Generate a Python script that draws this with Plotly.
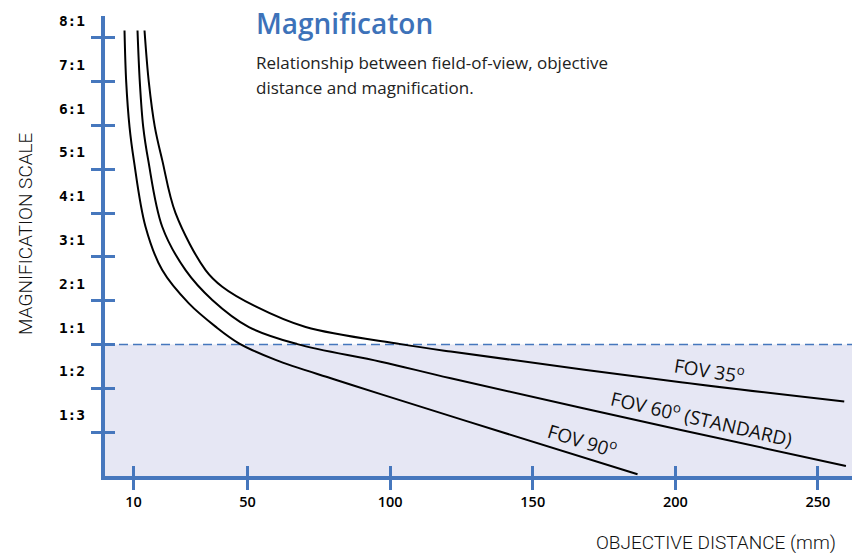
import plotly.graph_objects as go

# ---- data ----
# y values are in "scale steps": 1 = 1:3, 2 = 1:2, 3 = 1:1, 4 = 2:1 ... 10 = 8:1
scale_labels = ["1:3", "1:2", "1:1", "2:1", "3:1", "4:1", "5:1", "6:1", "7:1", "8:1"]
scale_steps = list(range(1, len(scale_labels) + 1))
one_to_one = scale_steps[scale_labels.index("1:1")]

distance_ticks = [10, 50, 100, 150, 200, 250]

fov90_dist = [6.84, 7.44, 8.60, 10.11, 14.21, 20.07, 29.40, 38.77, 46.95, 59.82, 80.28, 96.67, 138.77, 186.74]
fov90_mag = [10.17, 8.99, 7.97, 7.21, 5.69, 4.70, 3.94, 3.41, 3.03, 2.65, 2.21, 1.87, 1.01, 0.04]

fov60_dist = [11.40, 12.21, 13.40, 15.16, 20.07, 28.25, 37.61, 50.46, 67.44, 96.67, 121.23, 201.93, 259.82]
fov60_mag = [10.17, 8.99, 7.97, 7.21, 5.69, 4.70, 4.02, 3.40, 3.01, 2.61, 2.23, 1.05, 0.23]

fov35_dist = [13.86, 15.37, 17.47, 20.07, 24.74, 35.26, 41.12, 52.81, 70.35, 103.68, 121.23, 201.93, 259.23]
fov35_mag = [10.17, 8.99, 7.97, 7.21, 6.00, 4.70, 4.32, 3.87, 3.40, 3.01, 2.84, 2.14, 1.70]

curve_labels = ["FOV 35<sup>o</sup>", "FOV 60<sup>o</sup> (STANDARD)", "FOV 90<sup>o</sup>"]
label_dist = [212.0, 209.0, 167.5]
label_mag = [2.42, 1.32, 0.82]
label_angle = [9, 13, 17]

X_RANGE = [0, 263]
Y_RANGE = [0, 10.5]

AXIS_BLUE = "#4677bd"

fig = go.Figure()

for xs, ys, name in [(fov90_dist, fov90_mag, "FOV 90"),
                     (fov60_dist, fov60_mag, "FOV 60"),
                     (fov35_dist, fov35_mag, "FOV 35")]:
    fig.add_trace(go.Scatter(x=xs, y=ys, mode="lines", name=name,
                             line=dict(color="black", width=2, shape="spline", smoothing=1.0),
                             hoverinfo="x+y", showlegend=False))

# invisible trace to create the overlay axes (inner half of the crossing ticks)
fig.add_trace(go.Scatter(x=[], y=[], xaxis="x2", yaxis="y2", showlegend=False))

# shaded reduction region (below 1:1) and dashed 1:1 line
fig.add_shape(type="rect", xref="paper", yref="y", x0=0, x1=0.997, y0=0, y1=one_to_one,
              fillcolor="#e6e7f4", line=dict(width=0), layer="below")
fig.add_shape(type="line", xref="paper", yref="y", x0=0, x1=0.997, y0=one_to_one, y1=one_to_one,
              line=dict(color=AXIS_BLUE, width=1.5, dash="9px,5px"), layer="below")

for t, xv, yv, ang in zip(curve_labels, label_dist, label_mag, label_angle):
    fig.add_annotation(x=xv, y=yv, text=t, showarrow=False, textangle=ang,
                       font=dict(family="Open Sans", size=19, color="#111111", weight=500))

# page body has an 8px margin; layout is shifted to compensate
PW, PH = 750, 460      # plot area size in px
L, T = 97, 8           # margins (page offset 8px)
def px_x(x):           # page pixel -> paper x
    return (x - 8 - L) / PW
def px_y(y):           # page pixel -> paper y
    return (T + 8 + PH - y) / PH

# titles
fig.add_annotation(xref="paper", yref="paper", x=px_x(254), y=px_y(23), xanchor="left", yanchor="middle",
                   text="Magnificaton", showarrow=False,
                   font=dict(family="Open Sans", size=28, color="#3d72b9", weight=600))
fig.add_annotation(xref="paper", yref="paper", x=px_x(254), y=px_y(63), xanchor="left", yanchor="middle",
                   text="Relationship between field-of-view, objective", showarrow=False,
                   font=dict(family="Open Sans", size=17, color="#222222"))
fig.add_annotation(xref="paper", yref="paper", x=px_x(254), y=px_y(87), xanchor="left", yanchor="middle",
                   text="distance and magnification.", showarrow=False,
                   font=dict(family="Open Sans", size=17, color="#222222"))

# axis titles
fig.add_annotation(xref="paper", yref="paper", x=px_x(25), y=px_y(234),
                   xanchor="center", yanchor="middle", textangle=-90,
                   text="MAGNIFICATION SCALE", showarrow=False,
                   font=dict(family="Roboto", size=19, color="#111111", weight=300))
fig.add_annotation(xref="paper", yref="paper", x=px_x(838), y=px_y(542),
                   xanchor="right", yanchor="middle",
                   text="OBJECTIVE DISTANCE (mm)", showarrow=False,
                   font=dict(family="Roboto", size=19, color="#111111", weight=300))

common_x = dict(range=X_RANGE, tickvals=distance_ticks, showgrid=False, zeroline=False,
                tickcolor=AXIS_BLUE, tickwidth=3, ticklen=10, fixedrange=True)
common_y = dict(range=Y_RANGE, tickvals=scale_steps, showgrid=False, zeroline=False,
                tickcolor=AXIS_BLUE, tickwidth=3, ticklen=10, fixedrange=True)

fig.update_layout(
    width=852, height=545,
    margin=dict(l=L, r=5, t=T, b=77, autoexpand=False),
    paper_bgcolor="white", plot_bgcolor="white",
    xaxis=dict(**common_x, ticks="outside", showline=True, linecolor=AXIS_BLUE, linewidth=4,
               ticktext=[str(v) for v in distance_ticks],
               tickfont=dict(family="Open Sans", size=14.5, color="black", weight=600),
               ticklabelstandoff=0),
    yaxis=dict(**common_y, ticks="outside", showline=True, linecolor=AXIS_BLUE, linewidth=4,
               ticktext=scale_labels,
               tickfont=dict(family="DejaVu Sans Mono", size=14.5, color="black", weight="bold"),
               ticklabelshift=-17, ticklabelstandoff=3),
    xaxis2=dict(**common_x, overlaying="x", anchor="y", side="bottom", ticks="inside",
                showticklabels=False, showline=False),
    yaxis2=dict(**common_y, overlaying="y", anchor="x", side="left", ticks="inside",
                showticklabels=False, showline=False),
)

fig.write_html("out.html")
